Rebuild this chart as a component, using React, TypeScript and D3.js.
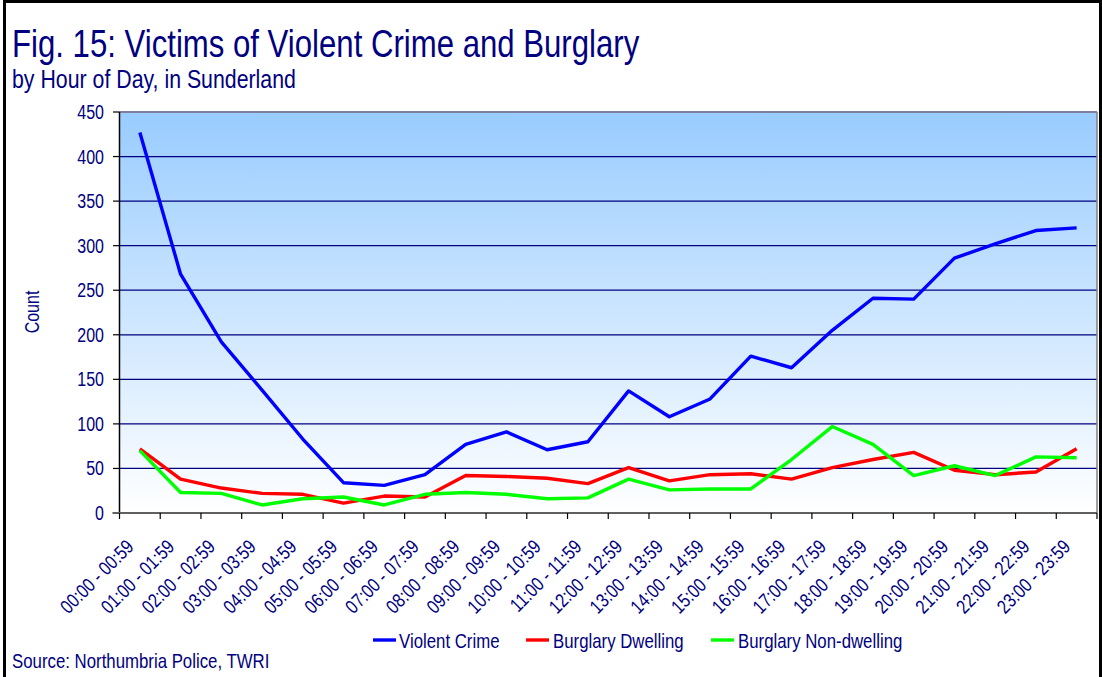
import React from "react";
import * as d3 from "d3";

const hours: string[] = [
  "00:00 - 00:59", "01:00 - 01:59", "02:00 - 02:59", "03:00 - 03:59",
  "04:00 - 04:59", "05:00 - 05:59", "06:00 - 06:59", "07:00 - 07:59",
  "08:00 - 08:59", "09:00 - 09:59", "10:00 - 10:59", "11:00 - 11:59",
  "12:00 - 12:59", "13:00 - 13:59", "14:00 - 14:59", "15:00 - 15:59",
  "16:00 - 16:59", "17:00 - 17:59", "18:00 - 18:59", "19:00 - 19:59",
  "20:00 - 20:59", "21:00 - 21:59", "22:00 - 22:59", "23:00 - 23:59",
];

const violentCrime: number[] = [
  427, 268, 192, 138, 83, 34, 31, 43, 77, 91, 71, 80,
  137, 108, 128, 176, 163, 205, 241, 240, 286, 302, 317, 320,
];

const burglaryDwelling: number[] = [
  72, 38, 28, 22, 21, 11, 19, 18, 42, 41, 39, 33,
  51, 36, 43, 44, 38, 51, 60, 68, 48, 43, 46, 72,
];

const burglaryNonDwelling: number[] = [
  70, 23, 22, 9, 16, 18, 9, 21, 23, 21, 16, 17,
  38, 26, 27, 27, 60, 97, 77, 42, 53, 42, 63, 62,
];

const yTicks: number[] = [0, 50, 100, 150, 200, 250, 300, 350, 400, 450];

const seriesNames: string[] = ["Violent Crime", "Burglary Dwelling", "Burglary Non-dwelling"];
const seriesColors: string[] = ["#0000FF", "#FF0000", "#00FF00"];

const W = 1102;
const H = 677;
const FONT = "'Liberation Sans', Arial, sans-serif";
const NAVY = "#000080";
const SX = 0.82;

function NText(props: {
  x: number;
  y: number;
  size: number;
  anchor?: string;
  rotate?: number;
  dy?: string;
  children: React.ReactNode;
}) {
  const { x, y, size, anchor = "start", rotate = 0, dy, children } = props;
  return (
    <g transform={`translate(${x},${y}) rotate(${rotate}) scale(${SX},1)`}>
      <text x={0} y={0} dy={dy} textAnchor={anchor} fill={NAVY} fontFamily={FONT} fontSize={size}>
        {children}
      </text>
    </g>
  );
}

export default function App() {
  const left = 119.5;
  const right = 1097;
  const top = 112;
  const bottom = 513;

  const x = d3.scaleBand<string>().domain(hours).range([left, right]).padding(0);
  const y = d3.scaleLinear().domain([0, 450]).range([bottom, top]);

  const series = [violentCrime, burglaryDwelling, burglaryNonDwelling];
  const line = d3
    .line<number>()
    .x((_, i) => (x(hours[i]) as number) + x.bandwidth() / 2)
    .y((d) => y(d));

  const legendItems = [
    { lx: 373, tx: 399 },
    { lx: 526, tx: 553 },
    { lx: 711, tx: 738 },
  ];

  const boundaries = d3.range(hours.length + 1).map((i) => left + i * x.bandwidth());

  return (
    <svg width={W} height={H} style={{ display: "block", position: "absolute", left: 0, top: 0 }}>
      <defs>
        <linearGradient id="bg" x1="0" y1="0" x2="0" y2="1">
          <stop offset="0%" stopColor="#99CCFF" />
          <stop offset="100%" stopColor="#FFFFFF" />
        </linearGradient>
      </defs>
      <rect x={0} y={0} width={W} height={H} fill="#FFFFFF" />
      <rect x={4.5} y={1.5} width={W - 6} height={H + 10} fill="none" stroke="#000" strokeWidth={3} />

      <NText x={12} y={57} size={38}>Fig. 15: Victims of Violent Crime and Burglary</NText>
      <NText x={12} y={88} size={26}>by Hour of Day, in Sunderland</NText>

      <rect x={left} y={top} width={right - left} height={bottom - top} fill="url(#bg)" />

      {yTicks.slice(1).map((t) => (
        <line key={t} x1={left} x2={right} y1={y(t)} y2={y(t)} stroke={NAVY} strokeWidth={1.2} />
      ))}
      <line x1={left} x2={right} y1={top} y2={top} stroke="#7F7F9F" strokeWidth={2} />
      <line x1={right} x2={right} y1={top} y2={bottom} stroke="#808080" strokeWidth={1.5} />

      <line x1={left} x2={left} y1={top} y2={bottom} stroke="#000" strokeWidth={1.5} />
      {yTicks.map((t) => (
        <g key={t}>
          <line x1={113} x2={left} y1={y(t)} y2={y(t)} stroke="#000" strokeWidth={1.2} />
          <NText x={104} y={y(t)} dy="0.36em" anchor="end" size={19.5}>
            {t}
          </NText>
        </g>
      ))}
      <NText x={39} y={312} rotate={-90} anchor="middle" size={19.5}>
        Count
      </NText>

      <line x1={left - 7} x2={right} y1={bottom} y2={bottom} stroke="#606060" strokeWidth={2} />
      {boundaries.map((bx, i) => (
        <line key={i} x1={bx} x2={bx} y1={bottom} y2={bottom + 6} stroke="#000" strokeWidth={1.2} />
      ))}
      {hours.map((h) => {
        const cx = (x(h) as number) + x.bandwidth() / 2;
        return (
          <NText key={h} x={cx - 5} y={bottom + 35} rotate={-45} anchor="end" size={19.5}>
            {h}
          </NText>
        );
      })}

      {series.map((s, i) => (
        <path key={i} d={line(s) as string} fill="none" stroke={seriesColors[i]} strokeWidth={3.4} strokeLinejoin="round" />
      ))}

      {seriesNames.map((n, i) => (
        <g key={n}>
          <line x1={legendItems[i].lx} x2={legendItems[i].lx + 23} y1={640} y2={640} stroke={seriesColors[i]} strokeWidth={3.4} />
          <NText x={legendItems[i].tx} y={648} size={20.5}>
            {n}
          </NText>
        </g>
      ))}

      <NText x={12} y={668} size={20.5}>Source: Northumbria Police, TWRI</NText>
    </svg>
  );
}
